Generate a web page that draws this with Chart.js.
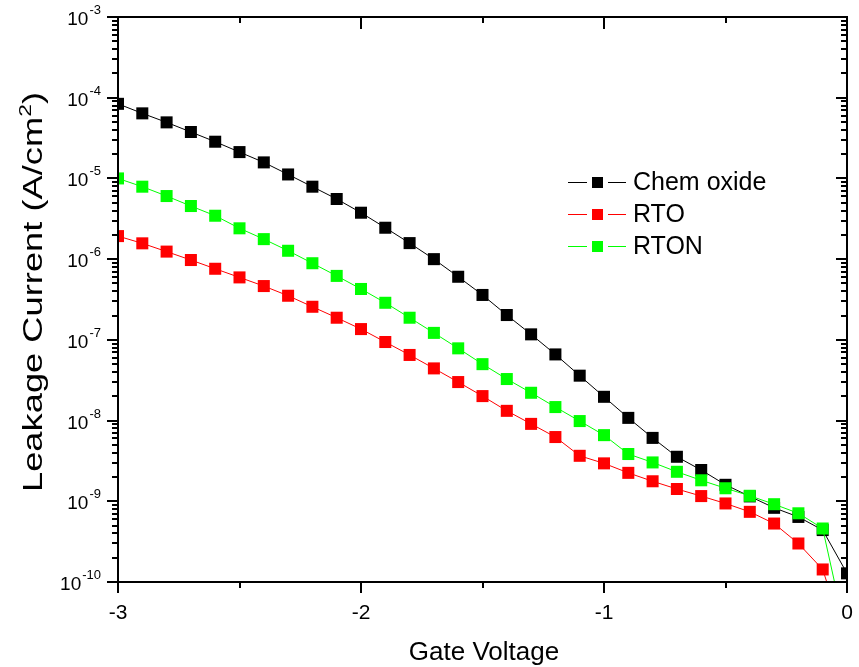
<!DOCTYPE html>
<html>
<head>
<meta charset="utf-8">
<script src="https://cdn.jsdelivr.net/npm/chart.js@4/dist/chart.umd.min.js"></script>
<style>
  html, body { margin: 0; padding: 0; background: #fff; }
  canvas { display: block; }
</style>
</head>
<body>
<canvas id="leakageChart" width="859" height="667"></canvas>
<script>
// Gate voltage sweep (V)
const voltage = [-3.0, -2.9, -2.8, -2.7, -2.6, -2.5, -2.4, -2.3, -2.2, -2.1,
                 -2.0, -1.9, -1.8, -1.7, -1.6, -1.5, -1.4, -1.3, -1.2, -1.1,
                 -1.0, -0.9, -0.8, -0.7, -0.6, -0.5, -0.4, -0.3, -0.2, -0.1, 0.0];

// Leakage current (A/cm2)
const chemOxide = [8.4e-5, 6.4e-5, 4.95e-5, 3.76e-5, 2.85e-5, 2.12e-5, 1.58e-5, 1.12e-5, 7.9e-6, 5.56e-6,
                   3.76e-6, 2.45e-6, 1.58e-6, 1.0e-6, 6.05e-7, 3.6e-7, 2.03e-7, 1.17e-7, 6.6e-8, 3.6e-8,
                   1.97e-8, 1.08e-8, 6.1e-9, 3.56e-9, 2.44e-9, 1.6e-9, 1.15e-9, 8.3e-10, 6.4e-10, 4.4e-10, 1.28e-10];
const rto = [1.93e-6, 1.57e-6, 1.24e-6, 9.75e-7, 7.6e-7, 5.94e-7, 4.64e-7, 3.52e-7, 2.57e-7, 1.88e-7,
             1.36e-7, 9.4e-8, 6.5e-8, 4.43e-8, 3.0e-8, 2.01e-8, 1.32e-8, 9.1e-9, 6.25e-9, 3.66e-9,
             2.95e-9, 2.25e-9, 1.77e-9, 1.42e-9, 1.16e-9, 9.4e-10, 7.4e-10, 5.3e-10, 3.0e-10, 1.43e-10, 1.7e-11];
const rton = [1.0e-5, 7.9e-6, 6.05e-6, 4.55e-6, 3.45e-6, 2.41e-6, 1.77e-6, 1.27e-6, 8.9e-7, 6.2e-7,
              4.27e-7, 2.88e-7, 1.88e-7, 1.22e-7, 7.85e-8, 5.0e-8, 3.27e-8, 2.21e-8, 1.47e-8, 9.86e-9,
              6.6e-9, 3.85e-9, 3.03e-9, 2.32e-9, 1.82e-9, 1.45e-9, 1.17e-9, 9.2e-10, 7.1e-10, 4.6e-10, 2.0e-11];

const seriesNames = ['Chem oxide', 'RTO', 'RTON'];
const seriesColors = ['#000000', '#ff0000', '#00ff00'];

// Axis ticks
const xTicks = [-3, -2.5, -2, -1.5, -1, -0.5, 0];
const xTickLabels = ['-3', '-2', '-1', '0'];
const yExponents = [-10, -9, -8, -7, -6, -5, -4, -3];

const FONT = '"Liberation Sans", Arial, sans-serif';

function toPoints(values) {
    return voltage.map((v, i) => ({ x: v, y: values[i] }));
}

function makeDataset(idx, values, order) {
    return {
        label: seriesNames[idx],
        data: toPoints(values),
        borderColor: seriesColors[idx],
        backgroundColor: seriesColors[idx],
        borderWidth: 1,
        pointStyle: 'rect',
        pointRadius: 8.5,
        pointBorderWidth: 0,
        pointBackgroundColor: seriesColors[idx],
        tension: 0,
        order: order
    };
}

// Origin-style frame, ticks, labels and legend
const originAxes = {
    id: 'originAxes',
    afterDatasetsDraw(chart) {
        const ctx = chart.ctx;
        const area = chart.chartArea;
        const xs = chart.scales.x;
        const ys = chart.scales.y;
        ctx.save();
        ctx.strokeStyle = '#000';
        ctx.fillStyle = '#000';
        ctx.lineWidth = 2;

        // frame
        ctx.strokeRect(area.left, area.top, area.right - area.left, area.bottom - area.top);

        // x ticks (bottom outward, top inward)
        ctx.beginPath();
        xTicks.forEach(v => {
            const px = Math.round(xs.getPixelForValue(v));
            const major = Number.isInteger(v);
            const len = major ? 11 : 6;
            ctx.moveTo(px, area.bottom);
            ctx.lineTo(px, area.bottom + len);
            ctx.moveTo(px, area.top);
            ctx.lineTo(px, area.top + (major ? 12 : 6));
        });
        // y ticks (left outward, right inward)
        yExponents.forEach(e => {
            for (let m = 1; m <= 9; m++) {
                if (e === -3 && m > 1) break;
                const py = Math.round(ys.getPixelForValue(m * Math.pow(10, e)));
                const len = m === 1 ? 11 : 6;
                ctx.moveTo(area.left, py);
                ctx.lineTo(area.left - len, py);
                ctx.moveTo(area.right, py);
                ctx.lineTo(area.right - len, py);
            }
        });
        ctx.stroke();

        // x tick labels
        ctx.font = '21px ' + FONT;
        ctx.textAlign = 'center';
        ctx.textBaseline = 'alphabetic';
        xTickLabels.forEach(t => {
            ctx.fillText(t, xs.getPixelForValue(parseFloat(t)), 619);
        });

        // y tick labels: 10^e
        yExponents.forEach(e => {
            const py = ys.getPixelForValue(Math.pow(10, e));
            ctx.font = '13px ' + FONT;
            ctx.textAlign = 'right';
            const expText = String(e);
            const expW = ctx.measureText(expText).width;
            ctx.fillText(expText, 101, py - 3);
            ctx.font = '19px ' + FONT;
            ctx.fillText('10', 101 - expW - 1, py + 8);
        });

        // x title
        ctx.font = '26px ' + FONT;
        ctx.textAlign = 'center';
        ctx.fillText('Gate Voltage', 484, 660);

        // y title (rotated, with superscript)
        ctx.save();
        ctx.translate(42, 292);
        ctx.rotate(-Math.PI / 2);
        ctx.font = '27px ' + FONT;
        const mainText = 'Leakage Current (A/cm';
        const wMain = ctx.measureText(mainText).width;
        ctx.font = '17px ' + FONT;
        const wSup = ctx.measureText('2').width;
        ctx.font = '27px ' + FONT;
        const wClose = ctx.measureText(')').width;
        const total = wMain + wSup + wClose;
        const stretch = 400 / total;
        ctx.scale(stretch, 1);
        ctx.textAlign = 'left';
        let x0 = -total / 2;
        ctx.fillText(mainText, x0, 0);
        ctx.font = '17px ' + FONT;
        ctx.fillText('2', x0 + wMain, -11);
        ctx.font = '27px ' + FONT;
        ctx.fillText(')', x0 + wMain + wSup, 0);
        ctx.restore();

        // legend
        const rows = [182, 214, 246];
        ctx.font = '25px ' + FONT;
        ctx.textAlign = 'left';
        ctx.textBaseline = 'middle';
        seriesNames.forEach((name, i) => {
            const y = rows[i];
            ctx.strokeStyle = seriesColors[i];
            ctx.lineWidth = 1;
            ctx.beginPath();
            ctx.moveTo(568, y + 0.5);
            ctx.lineTo(587, y + 0.5);
            ctx.moveTo(608, y + 0.5);
            ctx.lineTo(626, y + 0.5);
            ctx.stroke();
            ctx.fillStyle = seriesColors[i];
            ctx.fillRect(592, y - 5, 11, 11);
            ctx.fillStyle = '#000';
            ctx.fillText(name, 633, y + 1);
        });

        ctx.restore();
    }
};

new Chart(document.getElementById('leakageChart').getContext('2d'), {
    type: 'line',
    data: {
        datasets: [
            makeDataset(0, chemOxide, 2),
            makeDataset(1, rto, 1),
            makeDataset(2, rton, 0)
        ]
    },
    options: {
        responsive: false,
        animation: false,
        devicePixelRatio: 1,
        layout: { padding: { left: 118, top: 17, right: 12, bottom: 85 } },
        scales: {
            x: { type: 'linear', min: -3, max: 0, display: false },
            y: { type: 'logarithmic', min: 1e-10, max: 1e-3, display: false }
        },
        plugins: {
            legend: { display: false },
            tooltip: { enabled: false }
        }
    },
    plugins: [originAxes]
});
</script>
</body>
</html>
